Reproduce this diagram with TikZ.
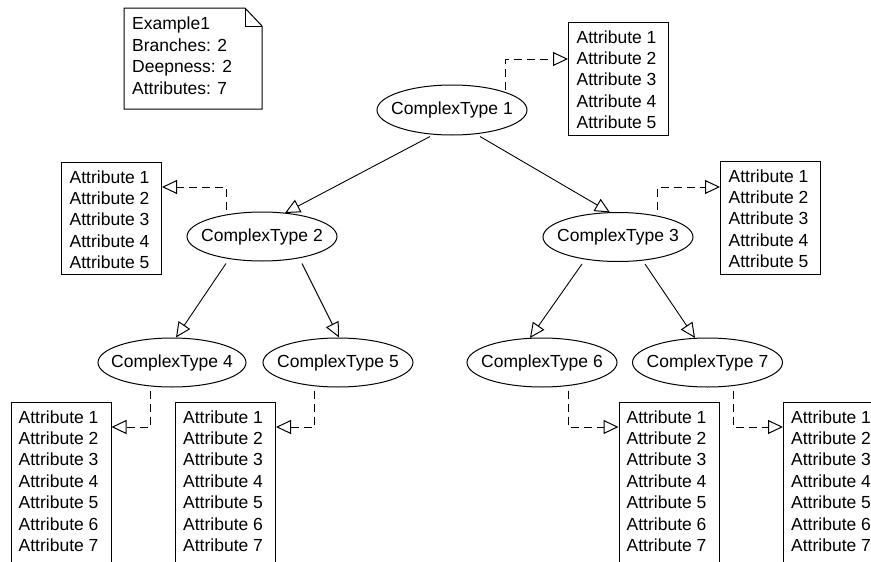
\documentclass[tikz,border=0pt]{standalone}
\usepackage{fontspec}
\setmainfont{Liberation Sans}
\usetikzlibrary{shapes.geometric,arrows.meta,calc}
\newcommand{\ctlabel}[1]{\makebox[0pt]{#1}}
\begin{document}
\begin{tikzpicture}[x=1pt,y=-1pt,
  every node/.style={font=\fontsize{17.5}{21.4}\selectfont},
  ctype/.style={draw,ellipse,line width=1pt,minimum width=150pt,minimum height=49pt,inner sep=0pt},
  attrbox/.style={draw,line width=1pt,anchor=north west,minimum width=100pt,inner sep=0pt},
  attrtext/.style={anchor=north west,align=left,inner sep=0pt},
  inh/.style={line width=0.9pt,-{Triangle[open,length=15pt,width=14pt,line width=1pt]}},
  dep/.style={line width=0.9pt,dash pattern=on 8pt off 5pt,-{Triangle[open,length=15pt,width=14pt,line width=1pt]}}
]
\clip (0,0) rectangle (871,562);
\fill[white] (0,0) rectangle (871,562);

% note
\draw[line width=1pt] (124,8) -- (245,8) -- (262,26) -- (262,109) -- (124,109) -- cycle;
\draw[line width=1pt] (245,8) -- (245,26) -- (262,26);
\node[attrtext] (note) at (132,17) {Example1\\Branches: 2\\Deepness: 2\\Attributes: 7};

% complex types
\node[ctype,minimum height=50pt] (ct1) at (452,110) {\ctlabel{ComplexType 1}};
\node[ctype] (ct2) at (262,236.5) {\ctlabel{ComplexType 2}};
\node[ctype] (ct3) at (618,237) {\ctlabel{ComplexType 3}};
\node[ctype,minimum width=148pt] (ct4) at (172,362.5) {\ctlabel{ComplexType 4}};
\node[ctype] (ct5) at (338,362.5) {\ctlabel{ComplexType 5}};
\node[ctype] (ct6) at (542,362.5) {\ctlabel{ComplexType 6}};
\node[ctype] (ct7) at (707.5,362.5) {\ctlabel{ComplexType 7}};

% attribute boxes
\node[attrbox,minimum height=113pt] (b1) at (568,22) {};
\node[attrbox,minimum height=112pt] (b2) at (61,162) {};
\node[attrbox,minimum height=113pt] (b3) at (720,161) {};
\node[attrbox,minimum height=175pt] (b4) at (10.5,402) {};
\node[attrbox,minimum height=175pt] (b5) at (175,402) {};
\node[attrbox,minimum height=175pt] (b6) at (618.5,402) {};
\node[attrbox,minimum height=175pt] (b7) at (783,402) {};

\node[attrtext] (t1) at ([shift={(8.5,8.2)}]b1.north west) {Attribute 1\\Attribute 2\\Attribute 3\\Attribute 4\\Attribute 5};
\node[attrtext] (t2) at ([shift={(8.5,8.2)}]b2.north west) {Attribute 1\\Attribute 2\\Attribute 3\\Attribute 4\\Attribute 5};
\node[attrtext] (t3) at ([shift={(8.5,8.2)}]b3.north west) {Attribute 1\\Attribute 2\\Attribute 3\\Attribute 4\\Attribute 5};
\node[attrtext] (t4) at ([shift={(8,8.2)}]b4.north west) {Attribute 1\\Attribute 2\\Attribute 3\\Attribute 4\\Attribute 5\\Attribute 6\\Attribute 7};
\node[attrtext] (t5) at ([shift={(8,8.2)}]b5.north west) {Attribute 1\\Attribute 2\\Attribute 3\\Attribute 4\\Attribute 5\\Attribute 6\\Attribute 7};
\node[attrtext] (t6) at ([shift={(8,8.2)}]b6.north west) {Attribute 1\\Attribute 2\\Attribute 3\\Attribute 4\\Attribute 5\\Attribute 6\\Attribute 7};
\node[attrtext] (t7) at ([shift={(8,8.2)}]b7.north west) {Attribute 1\\Attribute 2\\Attribute 3\\Attribute 4\\Attribute 5\\Attribute 6\\Attribute 7};

% inheritance edges
\draw[inh] ([xshift=-22pt,yshift=-1pt]ct1.south) -- ([xshift=23pt,yshift=-1.5pt]ct2.north);
\draw[inh] ([xshift=28pt,yshift=-1pt]ct1.south) -- ([xshift=-8pt,yshift=-0.5pt]ct3.north);
\draw[inh] ([xshift=-36pt,yshift=-2pt]ct2.south) -- ([xshift=4pt]ct4.north);
\draw[inh] ([xshift=40pt,yshift=-2pt]ct2.south) -- ([xshift=1pt]ct5.north);
\draw[inh] ([xshift=-36pt,yshift=-2pt]ct3.south) -- ([xshift=-12pt,yshift=-0.5pt]ct6.north);
\draw[inh] ([xshift=27pt,yshift=-2pt]ct3.south) -- ([xshift=-12.5pt,yshift=-0.5pt]ct7.north);

% attribute dependencies
\draw[dep] ([xshift=53pt,yshift=-5pt]ct1.north) |- ([yshift=-37pt]b1.north west);
\draw[dep] ([xshift=-36pt,yshift=2pt]ct2.north) |- ([yshift=-25pt]b2.north east);
\draw[dep] ([xshift=39pt,yshift=2.5pt]ct3.north) |- ([yshift=-26pt]b3.north west);
\draw[dep] ([xshift=-22pt,yshift=-3pt]ct4.south) |- ([yshift=-25pt]b4.north east);
\draw[dep] ([xshift=-24pt,yshift=-3pt]ct5.south) |- ([yshift=-25pt]b5.north east);
\draw[dep] ([xshift=26pt,yshift=-3pt]ct6.south) |- ([yshift=-25pt]b6.north west);
\draw[dep] ([xshift=25.5pt,yshift=-3pt]ct7.south) |- ([yshift=-25pt]b7.north west);
\end{tikzpicture}
\end{document}
